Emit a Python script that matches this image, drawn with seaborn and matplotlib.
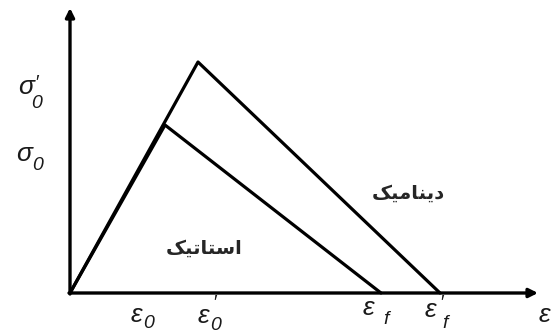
import pandas as pd
import matplotlib
matplotlib.use("Agg")
import matplotlib.pyplot as plt
import seaborn as sns

# strain / stress points of the two curves (arbitrary units)
static_strain = [0, 95, 311]
static_stress = [0, 168, 0]
dynamic_strain = [0, 128, 370]
dynamic_stress = [0, 231, 0]

# axis extents
x_axis_end = 468
y_axis_end = 285

# Persian words, written in shaped presentation forms in visual order
dynamic_label = "\uFB8F\uFBFF\uFEE3\uFE8E\uFEE8\uFBFE\uFEA9"   # دینامیک
static_label = "\uFB8F\uFBFF\uFE97\uFE8E\uFE98\uFEB3\uFE8D"    # استاتیک

sns.set_style("white")

fig = plt.figure(figsize=(5.52, 3.36), dpi=100)
ax = fig.add_axes([0, 0, 1, 1])

df_static = pd.DataFrame({"strain": static_strain, "stress": static_stress})
df_dynamic = pd.DataFrame({"strain": dynamic_strain, "stress": dynamic_stress})
sns.lineplot(data=df_static, x="strain", y="stress", sort=False, color="black", linewidth=2.3, ax=ax)
sns.lineplot(data=df_dynamic, x="strain", y="stress", sort=False, color="black", linewidth=2.3, ax=ax)

# axes with arrows
arrow = dict(arrowstyle="-|>", lw=2.4, color="black", mutation_scale=13, shrinkA=0, shrinkB=0)
ax.annotate("", xy=(x_axis_end, 0), xytext=(-1, 0), arrowprops=arrow)
ax.annotate("", xy=(0, y_axis_end), xytext=(0, -1), arrowprops=arrow)

txt_color = "#1a1a1a"
font = dict(family=["Liberation Sans"], style="italic", color=txt_color, ha="center", va="center")


def symbol(base, x, y, sub=None, sub_xy=None, prime_xy=None):
    ax.text(x, y, base, fontsize=19, **font)
    if sub is not None:
        ax.text(sub_xy[0], sub_xy[1], sub, fontsize=14, **font)
    if prime_xy is not None:
        ax.text(prime_xy[0], prime_xy[1], "\u2032", fontsize=14, **font)


symbol("\u03c3", -44, 206, "0", (-33, 189), (-34, 210))
symbol("\u03c3", -46, 139, "0", (-32, 127))
symbol("\u03b5", 66, -22, "0", (79, -31))
symbol("\u03b5", 133, -23, "0", (146, -33), (144, -11))
symbol("\u03b5", 298, -15, "f", (316, -27))
symbol("\u03b5", 360, -17, "f", (375, -31), (371, -10))
symbol("\u03b5", 474, -22)

ax.text(338, 100, dynamic_label, fontsize=14, fontweight="bold", ha="center", va="center",
        family=["DejaVu Sans"])
ax.text(134, 45, static_label, fontsize=14, fontweight="bold", ha="center", va="center",
        family=["DejaVu Sans"])

ax.set_xlim(-70, 482)
ax.set_ylim(-43, 293)
ax.axis("off")

fig.savefig("out.png", dpi=100)
